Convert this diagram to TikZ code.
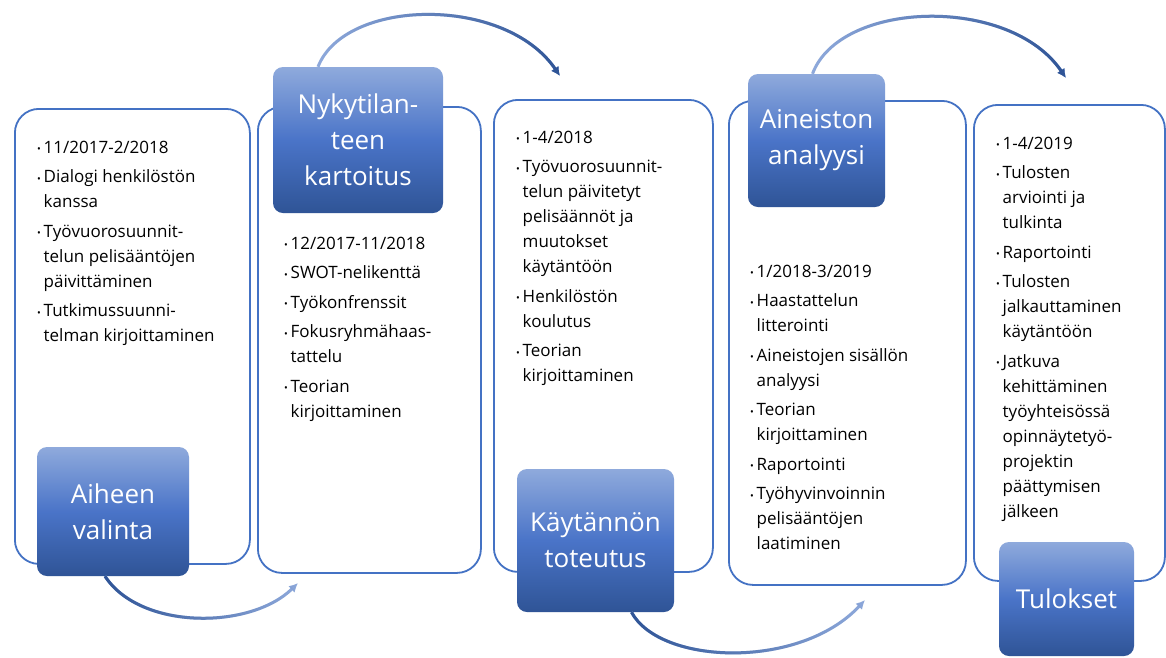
\documentclass[tikz,border=0pt]{standalone}
\usepackage{fontspec}
\setmainfont{Open Sans}
\usetikzlibrary{arrows.meta,fadings}

\definecolor{frame}{HTML}{4472C4}
\definecolor{lite}{HTML}{8FAADC}
\definecolor{mid}{HTML}{4A74C8}
\definecolor{deep}{HTML}{2F5496}

% fading masks for the two-tone flow arrows
\tikzfading[name=opaqueleft, left color=transparent!0, right color=transparent!100]
\tikzfading[name=opaqueright, left color=transparent!100, right color=transparent!0]

% bullet and continuation indent for the note lists
\newcommand\bul{\makebox[6.5pt][l]{\fontsize{10}{10}\selectfont\raisebox{0.5pt}{•}}}
\newcommand\cont{\hspace*{6.5pt}}

\tikzset{
  panel/.style={rectangle, draw=frame, line width=1.8pt, fill=white,
    rounded corners=24pt, inner sep=0pt, anchor=north west},
  stage/.style={rectangle, rounded corners=10pt, top color=lite,
    bottom color=deep, middle color=mid, text=white, align=center,
    font=\fontsize{26}{36}\selectfont, inner sep=0pt},
  notes/.style={anchor=north west, inner sep=0pt, align=left,
    font=\fontsize{17}{25}\selectfont},
  flow/.style={line width=3pt, -{Latex[length=9pt,width=9pt]}}
}

\begin{document}
\begin{tikzpicture}[x=1pt,y=-1pt]
\useasboundingbox[fill=white] (0,0) rectangle (1166,657);

% white panels
\node[panel, minimum width=235pt, minimum height=455pt] (b1) at (14,108) {};
\node[panel, minimum width=223pt, minimum height=466pt] (b2) at (257,106) {};
\node[panel, minimum width=219pt, minimum height=472pt] (b3) at (493,99) {};
\node[panel, minimum width=237pt, minimum height=484pt] (b4) at (728,100) {};
\node[panel, minimum width=191pt, minimum height=476pt] (b5) at (973,104) {};

% notes
\node[notes] (t1) at (37,135.5) {\strut\bul 11/2017-2/2018\\[4.5pt]
  \bul Dialogi henkilöstön\\ \cont kanssa\\[4.5pt]
  \bul Työvuorosuunnit-\\ \cont telun pelisääntöjen\\ \cont päivittäminen\\[4.5pt]
  \bul Tutkimussuunni-\\ \cont telman kirjoittaminen};

\node[notes] (t2) at (284,231.5) {\strut\bul 12/2017-11/2018\\[4.5pt]
  \bul SWOT-nelikenttä\\[4.5pt]
  \bul Työkonfrenssit\\[4.5pt]
  \bul Fokusryhmähaas-\\ \cont tattelu\\[4.5pt]
  \bul Teorian\\ \cont kirjoittaminen};

\node[notes] (t3) at (516,125.5) {\strut\bul 1-4/2018\\[4.5pt]
  \bul Työvuorosuunnit-\\ \cont telun päivitetyt\\ \cont pelisäännöt ja\\ \cont muutokset\\ \cont käytäntöön\\[4.5pt]
  \bul Henkilöstön\\ \cont koulutus\\[4.5pt]
  \bul Teorian\\ \cont kirjoittaminen};

\node[notes] (t4) at (750,259.5) {\strut\bul 1/2018-3/2019\\[4.5pt]
  \bul Haastattelun\\ \cont litterointi\\[4.5pt]
  \bul Aineistojen sisällön\\ \cont analyysi\\[4.5pt]
  \bul Teorian\\ \cont kirjoittaminen\\[4.5pt]
  \bul Raportointi\\[4.5pt]
  \bul Työhyvinvoinnin\\ \cont pelisääntöjen\\ \cont laatiminen};

\node[notes] (t5) at (996,131.5) {\strut\bul 1-4/2019\\[4.5pt]
  \bul Tulosten\\ \cont arviointi ja\\ \cont tulkinta\\[4.5pt]
  \bul Raportointi\\[4.5pt]
  \bul Tulosten\\ \cont jalkauttaminen\\ \cont käytäntöön\\[4.5pt]
  \bul Jatkuva\\ \cont kehittäminen\\ \cont työyhteisössä\\ \cont opinnäytetyö-\\ \cont projektin\\ \cont päättymisen\\ \cont jälkeen};

% stage boxes
\node[stage, minimum width=152pt, minimum height=129pt] (l1) at (113,511.5) {Aiheen\\valinta};
\node[stage, minimum width=170pt, minimum height=146pt] (l2) at (358,140) {Nykytilan-\\teen\\kartoitus};
\node[stage, minimum width=157pt, minimum height=143pt] (l3) at (595.5,540.5) {Käytännön\\toteutus};
\node[stage, minimum width=137pt, minimum height=133pt] (l4) at (816.5,140.5) {Aineiston\\analyysi};
\node[stage, minimum width=135pt, minimum height=114pt] (l5) at (1066.5,599) {Tulokset};

% arrow targets
\coordinate (e1) at (298,583);
\coordinate (e2) at (560,76);
\coordinate (e3) at (865,600);
\coordinate (e4) at (1066,78);

% flow arrows: light base stroke with a dark overlay that fades out
\draw[flow, lite] ([xshift=-8pt]l1.south) .. controls (140,630) and (250,630) .. (e1);
\draw[flow, deep, path fading=opaqueleft] ([xshift=-8pt]l1.south) .. controls (140,630) and (250,630) .. (e1);

\draw[flow, lite] ([xshift=-40pt]l2.north) .. controls (345,-2) and (505,-5) .. (e2);
\draw[flow, deep, path fading=opaqueright] ([xshift=-40pt]l2.north) .. controls (345,-2) and (505,-5) .. (e2);

\draw[flow, lite] ([xshift=36pt]l3.south) .. controls (660,665) and (800,670) .. (e3);
\draw[flow, deep, path fading=opaqueleft] ([xshift=36pt]l3.south) .. controls (660,665) and (800,670) .. (e3);

\draw[flow, lite] ([xshift=-4pt]l4.north) .. controls (840,0) and (1010,-5) .. (e4);
\draw[flow, deep, path fading=opaqueright] ([xshift=-4pt]l4.north) .. controls (840,0) and (1010,-5) .. (e4);
\end{tikzpicture}
\end{document}
